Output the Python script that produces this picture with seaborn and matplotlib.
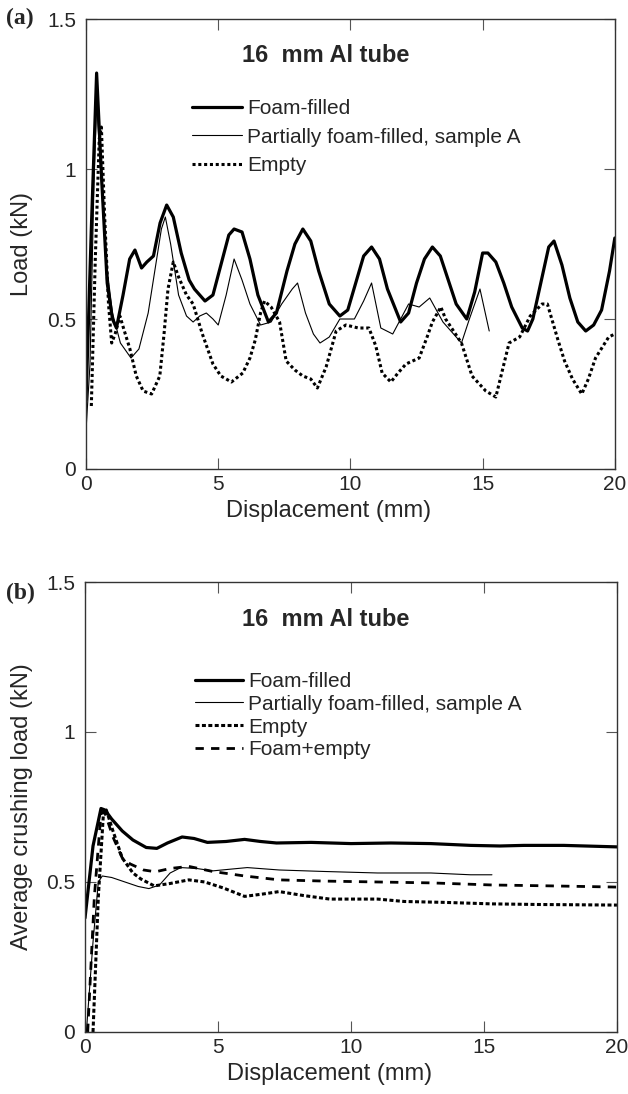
import matplotlib
matplotlib.use('Agg')
import matplotlib.pyplot as plt
import pandas as pd
import seaborn as sns

# (a) load vs displacement, 16 mm Al tube
foam_x = [0.0, 0.2, 0.4, 0.6, 0.8, 1.0, 1.15, 1.4, 1.65, 1.85, 2.1, 2.3, 2.55, 2.8, 3.05, 3.3, 3.6, 3.9,
          4.1, 4.3, 4.5, 4.8, 5.1, 5.4, 5.6, 5.9, 6.2, 6.5, 6.9, 7.2, 7.6, 7.9, 8.2, 8.5, 8.8, 9.2, 9.6,
          9.9, 10.2, 10.5, 10.8, 11.1, 11.4, 11.9, 12.2, 12.5, 12.8, 13.1, 13.4, 13.7, 14.0, 14.4, 14.7,
          15.0, 15.2, 15.5, 15.8, 16.1, 16.5, 16.7, 16.9, 17.2, 17.5, 17.7, 18.0, 18.3, 18.6, 18.9, 19.2,
          19.5, 19.8, 20.0]
foam_y = [0.23, 0.80, 1.32, 0.95, 0.62, 0.50, 0.47, 0.58, 0.70, 0.73, 0.67, 0.69, 0.71, 0.82, 0.88, 0.84,
          0.72, 0.63, 0.60, 0.58, 0.56, 0.58, 0.68, 0.78, 0.80, 0.79, 0.70, 0.58, 0.49, 0.52, 0.66, 0.75,
          0.80, 0.76, 0.66, 0.55, 0.51, 0.53, 0.62, 0.71, 0.74, 0.70, 0.60, 0.49, 0.52, 0.62, 0.70, 0.74,
          0.71, 0.63, 0.55, 0.50, 0.59, 0.72, 0.72, 0.69, 0.62, 0.54, 0.47, 0.46, 0.50, 0.62, 0.74, 0.76,
          0.68, 0.57, 0.49, 0.46, 0.48, 0.53, 0.66, 0.77]

part_x = [0.0, 0.15, 0.3, 0.4, 0.55, 0.75, 1.0, 1.3, 1.7, 2.0, 2.35, 2.6, 2.85, 3.0, 3.2, 3.5, 3.8, 4.05,
          4.3, 4.55, 4.8, 5.0, 5.3, 5.6, 5.9, 6.2, 6.6, 7.0, 7.4, 7.8, 8.0, 8.3, 8.6, 8.85, 9.2, 9.6,
          10.15, 10.5, 10.8, 11.15, 11.6, 12.2, 12.6, 13.0, 13.5, 13.9, 14.2, 14.5, 14.9, 15.25]
part_y = [0.13, 0.35, 0.95, 1.22, 1.00, 0.70, 0.52, 0.42, 0.37, 0.40, 0.52, 0.66, 0.80, 0.84, 0.75, 0.58,
          0.51, 0.49, 0.51, 0.52, 0.50, 0.48, 0.58, 0.70, 0.63, 0.55, 0.48, 0.49, 0.55, 0.60, 0.62, 0.52,
          0.45, 0.42, 0.44, 0.50, 0.50, 0.56, 0.62, 0.47, 0.45, 0.55, 0.54, 0.57, 0.49, 0.45, 0.42, 0.50,
          0.60, 0.46]

empty_x = [0.2, 0.35, 0.5, 0.58, 0.7, 0.85, 0.97, 1.1, 1.28, 1.45, 1.66, 1.9, 2.16, 2.48, 2.79, 2.95, 3.1,
           3.3, 3.5, 3.8, 4.05, 4.4, 4.8, 5.1, 5.5, 5.93, 6.2, 6.4, 6.6, 6.75, 7.0, 7.32, 7.57, 7.9, 8.2,
           8.5, 8.75, 9.08, 9.46, 9.83, 10.3, 10.7, 10.96, 11.2, 11.53, 11.8, 12.1, 12.6, 12.9, 13.1,
           13.42, 13.6, 13.9, 14.2, 14.6, 15.12, 15.5, 15.75, 16.0, 16.4, 16.8, 17.25, 17.45, 17.85,
           18.1, 18.4, 18.75, 19.0, 19.27, 19.77, 20.0]
empty_y = [0.21, 0.70, 1.10, 1.14, 0.85, 0.55, 0.42, 0.45, 0.51, 0.46, 0.40, 0.31, 0.26, 0.25, 0.31, 0.45,
           0.60, 0.69, 0.64, 0.58, 0.55, 0.45, 0.35, 0.31, 0.29, 0.32, 0.37, 0.43, 0.52, 0.56, 0.54, 0.49,
           0.36, 0.33, 0.31, 0.30, 0.27, 0.34, 0.46, 0.48, 0.47, 0.47, 0.41, 0.32, 0.29, 0.32, 0.35, 0.37,
           0.44, 0.49, 0.54, 0.50, 0.46, 0.42, 0.31, 0.26, 0.24, 0.33, 0.42, 0.44, 0.51, 0.55, 0.55, 0.43,
           0.36, 0.30, 0.25, 0.30, 0.37, 0.44, 0.45]

# (b) average crushing load
avg_foam_x = [0.0, 0.3, 0.6, 0.75, 1.0, 1.4, 1.8, 2.3, 2.7, 3.1, 3.65, 4.1, 4.6, 5.3, 6.0, 6.6, 7.2, 8.5,
              10.0, 11.5, 13.0, 14.5, 15.6, 16.5, 18.0, 20.0]
avg_foam_y = [0.38, 0.62, 0.745, 0.74, 0.71, 0.67, 0.64, 0.615, 0.612, 0.63, 0.65, 0.645, 0.632, 0.635,
              0.642, 0.635, 0.63, 0.632, 0.628, 0.63, 0.628, 0.622, 0.62, 0.622, 0.622, 0.617]

avg_part_x = [0.05, 0.3, 0.5, 0.65, 1.0, 1.5, 2.0, 2.4, 2.8, 3.2, 3.6, 4.2, 4.8, 5.5, 6.1, 7.3, 9.0, 11.0,
              13.0, 14.5, 15.3]
avg_part_y = [0.0, 0.30, 0.50, 0.52, 0.515, 0.50, 0.485, 0.478, 0.49, 0.53, 0.548, 0.545, 0.537, 0.543,
              0.548, 0.54, 0.535, 0.53, 0.53, 0.524, 0.524]

avg_empty_x = [0.3, 0.5, 0.7, 0.8, 1.05, 1.4, 1.8, 2.1, 2.6, 3.2, 3.9, 4.5, 5.2, 6.0, 6.7, 7.3, 8.2, 9.2,
               11.0, 12.0, 13.5, 15.3, 17.0, 20.0]
avg_empty_y = [0.0, 0.45, 0.74, 0.74, 0.67, 0.58, 0.53, 0.51, 0.487, 0.495, 0.507, 0.50, 0.48, 0.452,
               0.46, 0.468, 0.455, 0.443, 0.443, 0.435, 0.432, 0.427, 0.425, 0.423]

avg_mix_x = [0.1, 0.35, 0.6, 0.75, 1.05, 1.4, 1.7, 2.2, 2.65, 3.2, 3.9, 4.8, 6.0, 7.3, 9.0, 11.0, 13.0,
             15.3, 17.5, 20.0]
avg_mix_y = [0.0, 0.45, 0.73, 0.73, 0.65, 0.58, 0.56, 0.54, 0.534, 0.545, 0.552, 0.535, 0.52, 0.507,
             0.503, 0.50, 0.497, 0.49, 0.487, 0.483]

labels_a = ['Foam-filled', 'Partially foam-filled, sample A', 'Empty']
labels_b = ['Foam-filled', 'Partially foam-filled, sample A', 'Empty', 'Foam+empty']

sns.set_style('ticks')
plt.rcParams['font.family'] = ['Liberation Sans', 'DejaVu Sans']
plt.rcParams['axes.edgecolor'] = '#333333'
plt.rcParams['axes.linewidth'] = 1.0

fig = plt.figure(figsize=(6.28, 10.94), dpi=100)
ax1 = fig.add_axes([0.137, 0.5713, 0.842, 0.4113])
ax2 = fig.add_axes([0.1354, 0.0567, 0.847, 0.4113])

lw_thick = 2.3
lw_thin = 0.8

# top panel
sns.lineplot(x=foam_x, y=foam_y, ax=ax1, color='black', lw=lw_thick, sort=False,
             estimator=None, label=labels_a[0])
sns.lineplot(x=part_x, y=part_y, ax=ax1, color='black', lw=lw_thin, sort=False,
             estimator=None, label=labels_a[1])
sns.lineplot(x=empty_x, y=empty_y, ax=ax1, color='black', lw=2.2, sort=False,
             estimator=None, label=labels_a[2], dashes=False)
ax1.lines[2].set_dashes((1.0, 0.9))

# bottom panel
sns.lineplot(x=avg_foam_x, y=avg_foam_y, ax=ax2, color='black', lw=lw_thick, sort=False,
             estimator=None, label=labels_b[0])
sns.lineplot(x=avg_part_x, y=avg_part_y, ax=ax2, color='black', lw=lw_thin, sort=False,
             estimator=None, label=labels_b[1])
sns.lineplot(x=avg_empty_x, y=avg_empty_y, ax=ax2, color='black', lw=2.2, sort=False,
             estimator=None, label=labels_b[2])
sns.lineplot(x=avg_mix_x, y=avg_mix_y, ax=ax2, color='black', lw=2.0, sort=False,
             estimator=None, label=labels_b[3])
ax2.lines[2].set_dashes((1.3, 0.8))
ax2.lines[3].set_dashes((3.0, 2.6))

for ax, ylab in [(ax1, 'Load (kN)'), (ax2, 'Average crushing load (kN)')]:
    ax.set_xlim(0, 20)
    ax.set_ylim(0, 1.5)
    ax.set_xticks([0, 5, 10, 15, 20])
    ax.set_yticks([0, 0.5, 1, 1.5])
    ax.set_yticklabels(['0', '0.5', '1', '1.5'])
    ax.tick_params(direction='in', length=8, width=0.8, color='#555555', labelsize=15,
                   top=True, right=True)
    ax.tick_params(axis='y', pad=7)
    ax.tick_params(axis='x', pad=4)
    for s in ax.spines.values():
        s.set_visible(True)
    ax.set_xlabel('Displacement (mm)', fontsize=17)
    ax.set_ylabel(ylab, fontsize=17)

ax1.yaxis.set_label_coords(-0.100, 0.5)
ax2.yaxis.set_label_coords(-0.098, 0.5)
ax1.xaxis.set_label_coords(0.459, -0.068)
ax2.xaxis.set_label_coords(0.459, -0.068)

ax1.text(0.454, 0.918, '16  mm Al tube', transform=ax1.transAxes, ha='center', va='center',
         fontsize=17, fontweight='bold')
ax2.text(0.453, 0.916, '16  mm Al tube', transform=ax2.transAxes, ha='center', va='center',
         fontsize=17, fontweight='bold')

ax1.legend(loc='upper left', bbox_to_anchor=(0.200, 0.822), frameon=False, fontsize=15,
           handlelength=2.4, handletextpad=0.25, labelspacing=0.45, borderpad=0, borderaxespad=0)
ax2.legend(loc='upper left', bbox_to_anchor=(0.207, 0.800), frameon=False, fontsize=15,
           handlelength=2.3, handletextpad=0.25, labelspacing=0.18, borderpad=0, borderaxespad=0)

fig.text(6 / 628, 1 - 18 / 1094, '(a)', ha='left', va='center', fontsize=17, fontweight='bold',
         family=['Liberation Serif', 'DejaVu Serif'])
fig.text(6 / 628, 1 - 593 / 1094, '(b)', ha='left', va='center', fontsize=17, fontweight='bold',
         family=['Liberation Serif', 'DejaVu Serif'])

fig.savefig('out.png', dpi=100)
